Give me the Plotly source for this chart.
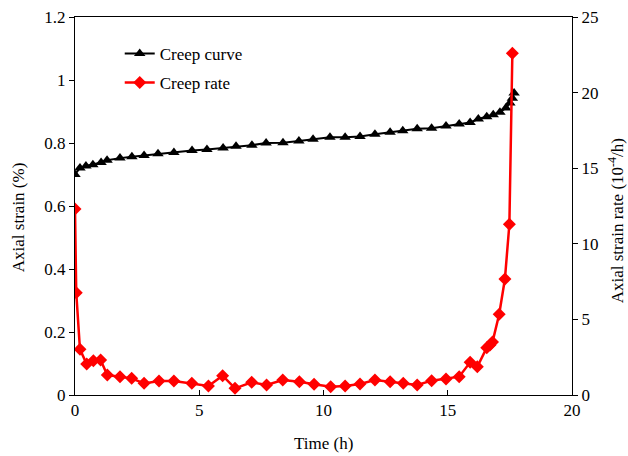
import plotly.graph_objects as go

# Creep curve (left axis, axial strain %)
t_curve = [0, 0.2, 0.44, 0.72, 1.05, 1.29, 1.81, 2.29, 2.78, 3.34, 3.98, 4.71, 5.31, 5.96,
           6.48, 7.12, 7.69, 8.37, 9.01, 9.58, 10.26, 10.87, 11.47, 12.07, 12.68, 13.19,
           13.77, 14.35, 14.93, 15.46, 15.9, 16.23, 16.57, 16.83, 17.1, 17.34, 17.5, 17.6, 17.67]
strain = [0.700, 0.721, 0.727, 0.731, 0.738, 0.745, 0.752, 0.756, 0.760, 0.766, 0.770, 0.776,
          0.779, 0.784, 0.790, 0.793, 0.800, 0.801, 0.806, 0.812, 0.818, 0.818, 0.821, 0.828,
          0.834, 0.839, 0.845, 0.847, 0.854, 0.860, 0.865, 0.876, 0.883, 0.890, 0.898, 0.911,
          0.927, 0.942, 0.959]

# Creep rate (right axis, 10^-4/h)
t_rate = [0, 0.05, 0.2, 0.47, 0.74, 1.03, 1.3, 1.81, 2.28, 2.78, 3.38, 3.98, 4.7, 5.37, 5.94,
          6.44, 7.11, 7.71, 8.36, 9.03, 9.62, 10.29, 10.87, 11.47, 12.07, 12.68, 13.21, 13.77,
          14.35, 14.93, 15.46, 15.9, 16.19, 16.57, 16.7, 16.8, 17.07, 17.3, 17.48, 17.6]
rate = [12.3, 6.77, 3.02, 2.05, 2.27, 2.31, 1.32, 1.21, 1.10, 0.77, 0.93, 0.93, 0.77, 0.60,
        1.28, 0.44, 0.84, 0.66, 0.99, 0.88, 0.71, 0.55, 0.60, 0.73, 0.99, 0.88, 0.77, 0.66,
        0.95, 1.06, 1.21, 2.16, 1.87, 3.13, 3.3, 3.5, 5.34, 7.67, 11.29, 22.6]

# Axis titles
x_title = "Time (h)"
y_title = "Axial strain (%)"
y2_title = "Axial strain rate (10<sup>-4</sup>/h)"

FONT = "Liberation Serif, Times New Roman, serif"

fig = go.Figure()
fig.add_trace(go.Scatter(
    x=t_curve, y=strain, name="Creep curve", mode="lines+markers",
    line=dict(color="black", width=2),
    marker=dict(symbol="triangle-up", size=10, color="black"),
    legendgroup="a", yaxis="y"))
fig.add_trace(go.Scatter(
    x=t_rate, y=rate, name="Creep rate", mode="lines+markers",
    line=dict(color="#ff0000", width=2.5),
    marker=dict(symbol="diamond", size=10, color="#ff0000"),
    legendgroup="b", yaxis="y2"))

axis_common = dict(showline=True, linecolor="black", linewidth=1, showgrid=False,
                   zeroline=False, tickcolor="black", ticklen=5, automargin=False,
                   tickfont=dict(family=FONT, size=17, color="black"))

title_font = dict(family=FONT, size=17, color="black")

fig.update_layout(
    width=628, height=456,
    margin=dict(l=75, r=56, t=17, b=61),
    plot_bgcolor="white", paper_bgcolor="white",
    font=dict(family=FONT, size=17, color="black"),
    showlegend=True,
    legend=dict(x=0.09, y=0.95, xanchor="left", yanchor="top",
                bgcolor="rgba(0,0,0,0)", font=dict(family=FONT, size=17),
                traceorder="grouped", tracegroupgap=4),
    xaxis=dict(range=[0, 20], dtick=5, ticks="inside", mirror=True, **axis_common),
    yaxis=dict(range=[0, 1.2], dtick=0.2, ticks="outside", **axis_common),
    yaxis2=dict(range=[0, 25], dtick=5, ticks="outside", overlaying="y", side="right",
                **axis_common),
    annotations=[
        dict(text=x_title, xref="paper", yref="paper", x=0.5, y=-0.127,
             xanchor="center", yanchor="middle", showarrow=False, font=title_font),
        dict(text=y_title, xref="paper", yref="paper", x=-0.115, y=0.47, textangle=-90,
             xanchor="center", yanchor="middle", showarrow=False, font=title_font),
        dict(text=y2_title, xref="paper", yref="paper", x=1.089, y=0.46, textangle=-90,
             xanchor="center", yanchor="middle", showarrow=False, font=title_font),
    ],
)

fig.write_html("out.html")
